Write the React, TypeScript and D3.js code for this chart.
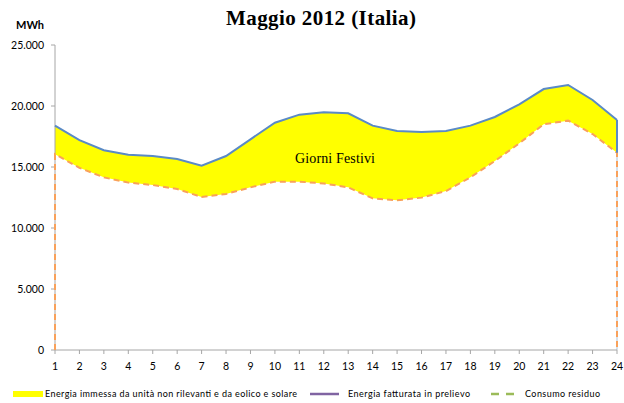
import React from "react";
import * as d3 from "d3";

const hours = d3.range(1, 25);
const fatturata = [18400, 17200, 16380, 16010, 15900, 15660, 15110, 15900, 17270, 18630, 19290, 19480, 19400, 18390, 17950, 17870, 17950, 18390, 19100, 20140, 21390, 21720, 20490, 18850];
const residuo = [16050, 14930, 14150, 13720, 13520, 13200, 12540, 12790, 13330, 13800, 13800, 13650, 13330, 12430, 12270, 12490, 13030, 14150, 15490, 16940, 18500, 18800, 17700, 16170];
const yTicks = [0, 5000, 10000, 15000, 20000, 25000];

const W = 624, H = 403;
const x0 = 55, x1 = 617, yTop = 45, yBot = 350;

export default function App() {
  const x = d3.scaleLinear().domain([1, 24]).range([x0, x1]);
  const y = d3.scaleLinear().domain([0, 25000]).range([yBot, yTop]);
  const fmt = (v: number) => (v === 0 ? "0" : d3.format(",")(v).replace(/,/g, "."));

  const band = d3.area<number>()
    .x((_, i) => x(hours[i]))
    .y0((_, i) => y(residuo[i]))
    .y1((_, i) => y(fatturata[i]))(hours as any) as string;

  const topLine = d3.line<number>()
    .x((_, i) => x(hours[i]))
    .y((_, i) => y(fatturata[i]))(hours as any) as string;

  const resPts: [number, number][] = [[x(1), y(0)], ...hours.map((h, i) => [x(h), y(residuo[i])] as [number, number]), [x(24), y(0)]];
  const resLine = d3.line()(resPts) as string;

  const sans = "Lato, 'Open Sans', sans-serif";
  const serif = "'Liberation Serif', 'DejaVu Serif', serif";

  return (
    <svg width={W} height={H} style={{ position: "absolute", left: 0, top: 0, background: "#fff" }}>
      <text x={321} y={25} textAnchor="middle" fontFamily={serif} fontWeight="bold" fontSize={21} textLength={190} fill="#000">Maggio 2012 (Italia)</text>
      <text x={16} y={29} fontFamily={sans} fontWeight="bold" fontSize={11} fill="#000">MWh</text>

      {/* band */}
      <path d={band} fill="#FFFF00" stroke="none" />
      {/* right edge light border */}
      <line x1={x(24)} x2={x(24)} y1={y(residuo[23])} y2={yBot} stroke="#C9D6E3" strokeWidth={1.5} />

      {/* axes */}
      <line x1={x0} x2={x0} y1={yTop} y2={yBot} stroke="#A6A6A6" strokeWidth={1} />
      <line x1={x0} x2={x1} y1={yBot} y2={yBot} stroke="#A6A6A6" strokeWidth={1} />
      {yTicks.map(t => (
        <g key={t}>
          <line x1={x0 - 4} x2={x0} y1={y(t)} y2={y(t)} stroke="#A6A6A6" />
          <text x={44} y={y(t) + 3.5} textAnchor="end" fontFamily={sans} fontSize={10.5} fill="#000">{fmt(t)}</text>
        </g>
      ))}
      {hours.map(h => (
        <g key={h}>
          <line x1={x(h)} x2={x(h)} y1={yBot} y2={yBot + 4} stroke="#A6A6A6" />
          <text x={x(h)} y={370} textAnchor="middle" fontFamily={sans} fontSize={10.5} fill="#000">{h}</text>
        </g>
      ))}

      {/* lines */}
      <path d={resLine} fill="none" stroke="#F9A15A" strokeWidth={2} strokeDasharray="6,4" />
      <path d={topLine} fill="none" stroke="#5A8AC6" strokeWidth={2} />
      <line x1={x(24)} x2={x(24)} y1={y(fatturata[23])} y2={y(residuo[23])} stroke="#5A8AC6" strokeWidth={2} />

      <text x={295} y={162.5} fontFamily={serif} fontSize={14} textLength={80} fill="#000">Giorni Festivi</text>

      {/* legend */}
      <rect x={13} y={391} width={30} height={6} fill="#FFFF00" />
      <text x={45} y={397} fontFamily={sans} fontSize={9} textLength={252} fill="#000">Energia immessa da unità non rilevanti e da eolico e solare</text>
      <line x1={310} x2={339} y1={394} y2={394} stroke="#8064A2" strokeWidth={2.5} />
      <text x={348} y={397} fontFamily={sans} fontSize={9} textLength={122} fill="#000">Energia fatturata  in prelievo</text>
      <line x1={491} x2={515} y1={394} y2={394} stroke="#9BBB59" strokeWidth={2.5} strokeDasharray="8,7" />
      <text x={525} y={397} fontFamily={sans} fontSize={9} textLength={75} fill="#000">Consumo residuo</text>
    </svg>
  );
}
